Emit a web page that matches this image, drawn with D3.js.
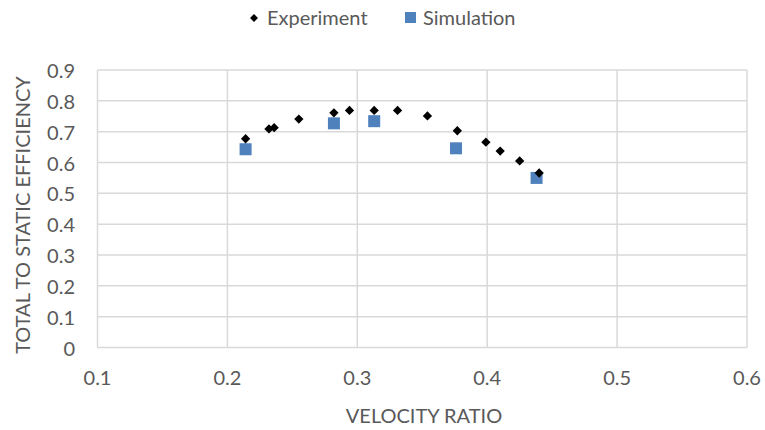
<!DOCTYPE html>
<html>
<head>
<meta charset="utf-8">
<script src="https://cdn.jsdelivr.net/npm/d3@7"></script>
<style>
  body { margin: 0; background: #fff; }
  text { font-family: Lato, "Open Sans", sans-serif; fill: #595959; }
</style>
</head>
<body>
<div id="chart"></div>
<script>
// Data
const expRatio = [0.214, 0.232, 0.236, 0.255, 0.282, 0.294, 0.313, 0.331, 0.354, 0.377, 0.399, 0.410, 0.425, 0.440];
const expEff   = [0.677, 0.709, 0.713, 0.741, 0.761, 0.769, 0.769, 0.769, 0.751, 0.703, 0.666, 0.637, 0.605, 0.566];
const simRatio = [0.214, 0.282, 0.313, 0.376, 0.438];
const simEff   = [0.643, 0.727, 0.734, 0.646, 0.550];
const xTicks = [0.1, 0.2, 0.3, 0.4, 0.5, 0.6];
const yTicks = [0, 0.1, 0.2, 0.3, 0.4, 0.5, 0.6, 0.7, 0.8, 0.9];

const W = 765, H = 430;
const margin = {top: 70, right: 18, bottom: 82.5, left: 97.5};

const svg = d3.select("#chart").append("svg")
  .attr("width", W)
  .attr("height", H);

const x = d3.scaleLinear().domain([0.1, 0.6]).range([margin.left, W - margin.right]);
const y = d3.scaleLinear().domain([0, 0.9]).range([H - margin.bottom, margin.top]);

// grid
svg.append("g")
  .selectAll("line")
  .data(yTicks)
  .join("line")
  .attr("x1", x(0.1)).attr("x2", x(0.6))
  .attr("y1", d => y(d)).attr("y2", d => y(d))
  .attr("stroke", "#d9d9d9").attr("stroke-width", 1.5);

svg.append("g")
  .selectAll("line")
  .data(xTicks)
  .join("line")
  .attr("x1", d => x(d)).attr("x2", d => x(d))
  .attr("y1", y(0)).attr("y2", y(0.9))
  .attr("stroke", "#d9d9d9").attr("stroke-width", 1.5);

// tick labels
svg.append("g")
  .selectAll("text")
  .data(yTicks)
  .join("text")
  .attr("x", 75)
  .attr("y", d => y(d) + 1)
  .attr("dy", "0.35em")
  .attr("text-anchor", "end")
  .style("font-size", "20px")
  .text(d => d === 0 ? "0" : d3.format(".1f")(d));

svg.append("g")
  .selectAll("text")
  .data(xTicks)
  .join("text")
  .attr("x", d => x(d))
  .attr("y", 385)
  .attr("text-anchor", "middle")
  .style("font-size", "20px")
  .text(d => d3.format(".1f")(d));

// axis titles
svg.append("text")
  .attr("x", 424)
  .attr("y", 423)
  .attr("text-anchor", "middle")
  .style("font-size", "20px")
  .text("VELOCITY RATIO");

svg.append("text")
  .attr("transform", "translate(30,215) rotate(-90)")
  .attr("text-anchor", "middle")
  .style("font-size", "20px")
  .text("TOTAL TO STATIC EFFICIENCY");

// series
const expData = expRatio.map((r, i) => ({r, e: expEff[i]}));
const simData = simRatio.map((r, i) => ({r, e: simEff[i]}));

const diamond = d3.symbol().type(d3.symbolDiamond2).size(55);

svg.append("g")
  .selectAll("rect")
  .data(simData)
  .join("rect")
  .attr("x", d => x(d.r) - 6)
  .attr("y", d => y(d.e) - 6)
  .attr("width", 12).attr("height", 12)
  .attr("fill", "#4f81bd");

svg.append("g")
  .selectAll("path")
  .data(expData)
  .join("path")
  .attr("transform", d => `translate(${x(d.r)},${y(d.e)})`)
  .attr("d", diamond)
  .attr("fill", "#000");

// legend
const leg = svg.append("g");
leg.append("path")
  .attr("transform", "translate(254,18)")
  .attr("d", d3.symbol().type(d3.symbolDiamond2).size(40))
  .attr("fill", "#000");
leg.append("text")
  .attr("x", 267).attr("y", 25)
  .style("font-size", "20px")
  .text("Experiment");
leg.append("rect")
  .attr("x", 405).attr("y", 12)
  .attr("width", 11).attr("height", 11)
  .attr("fill", "#4f81bd");
leg.append("text")
  .attr("x", 423).attr("y", 25)
  .style("font-size", "20px")
  .text("Simulation");
</script>
</body>
</html>
